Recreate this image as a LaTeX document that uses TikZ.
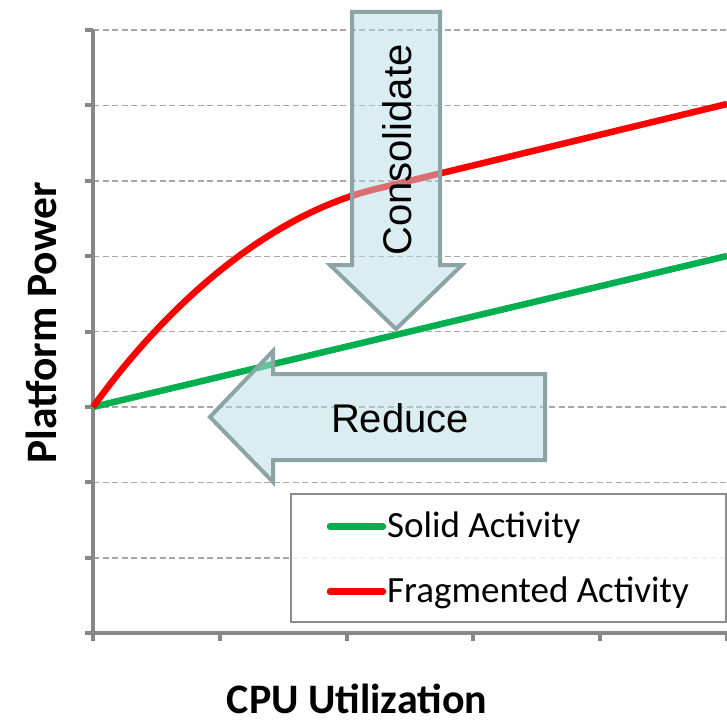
\documentclass[tikz,border=0pt]{standalone}
\usepackage{fontspec}
\setmainfont{Liberation Sans}
\newfontfamily\carlito{Carlito}
\begin{document}
\begin{tikzpicture}[x=1pt,y=-1pt,
  grid/.style={draw=gray!85!black!60, line width=1.4pt, dash pattern=on 6pt off 3.5pt},
  axisline/.style={draw=black!47, line width=4pt},
  curve/.style={line width=6.5pt, line cap=round},
  blockarrow/.style={draw=arrowedge, line width=4pt, fill=arrowfill, fill opacity=0.5, line join=miter},
  arrowtext/.style={font=\fontsize{40}{40}\selectfont, text=black, inner sep=0pt},
  legendtext/.style={font=\carlito\fontsize{37}{37}\selectfont, anchor=base west, inner sep=0pt},
  axislabel/.style={font=\carlito\bfseries\fontsize{42}{42}\selectfont, anchor=base, inner sep=0pt}]
\definecolor{arrowfill}{RGB}{182,221,227}
\definecolor{arrowedge}{RGB}{140,164,166}
\definecolor{solidgreen}{RGB}{0,176,80}
\definecolor{fragred}{RGB}{255,0,0}
\useasboundingbox (0,0) rectangle (727,722);

% horizontal grid
\foreach \k in {0,...,7}
  \draw[grid] (93,{30+75.4*\k}) -- (727,{30+75.4*\k});

% axes with ticks
\draw[axisline] (93,30) -- (93,641);
\draw[axisline] (85,633) -- (727,633);
\foreach \k in {0,...,7}
  \draw[axisline] (85,{30+75.4*\k}) -- (93,{30+75.4*\k});
\foreach \k in {0,...,5}
  \draw[axisline] ({93+126.8*\k},633) -- ({93+126.8*\k},641);

% data curves
\coordinate (o) at (93,407);
\coordinate (gEnd) at (727,256);
\coordinate (rKnee) at (380,188);
\coordinate (rEnd) at (727,104);
\draw[curve, draw=solidgreen, line cap=butt] (o) -- (gEnd);
\draw[curve, draw=fragred, line cap=butt] (o) .. controls (160,314) and (262,215) .. (rKnee) -- (rEnd);

% block arrows
\draw[blockarrow] (352,12) -- (440,12) -- (440,265) -- (462,265) -- (396,329)
  -- (330,265) -- (352,265) -- cycle;
\draw[blockarrow] (545,374) -- (545,460) -- (273,460) -- (273,482) -- (210,417)
  -- (273,351) -- (273,374) -- cycle;
\node[arrowtext, rotate=90, anchor=base] (consolidate) at (411,150) {Consolidate};
\node[arrowtext, anchor=base] (reduce) at (400,432) {Reduce};

% legend
\draw[draw=black!45, line width=2pt, fill=white, fill opacity=0.85] (291,494) rectangle (726,622);
\coordinate (lg1a) at (330,526.5);
\coordinate (lg1b) at (383,526.5);
\coordinate (lg2a) at (330,591.5);
\coordinate (lg2b) at (383,591.5);
\draw[curve, draw=solidgreen] (lg1a) -- (lg1b);
\draw[curve, draw=fragred] (lg2a) -- (lg2b);
\node[legendtext] (solid) at (387,537) {Solid Activity};
\node[legendtext] (frag) at (387,602) {Fragmented Activity};

% axis titles
\node[axislabel, rotate=90, font=\carlito\bfseries\fontsize{43.5}{43.5}\selectfont] (ylab) at (56,323) {Platform Power};
\node[axislabel] (xlab) at (357,713) {CPU Utilization};
\end{tikzpicture}
\end{document}
